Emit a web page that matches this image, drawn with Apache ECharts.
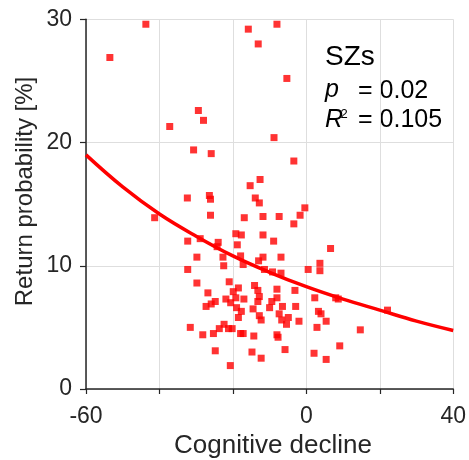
<!DOCTYPE html>
<html>
<head>
<meta charset="utf-8">
<script src="https://cdn.jsdelivr.net/npm/echarts@6/dist/echarts.min.js"></script>
<style>
html,body{margin:0;padding:0;background:#fff;}
#chart{width:469px;height:460px;}
</style>
</head>
<body>
<div id="chart"></div>
<script>
// Scatter: cognitive decline (x) vs return probability [%] (y)
const declineValues = [
  -53.5,-43.7,-37.2,-29.4,-28.0,-30.7,-25.9,-32.4,-26.4,-26.1,-26.1,-41.3,
  -15.8,-8.0,-13.1,-5.3,-8.8,-3.4,-12.6,-15.3,-13.9,-12.8,-0.4,-1.7,-16.9,-11.8,-7.4,-3.4,
  -32.3,-28.9,-24.0,-24.3,-29.8,-22.7,-32.3,-22.5,-29.8,-21.0,
  -19.2,-17.7,-11.8,-8.9,-18.8,-17.9,-17.2,-11.8,-13.0,-6.9,-11.4,-9.2,-6.9,0.5,3.7,3.7,6.6,
  -18.5,-14.1,-13.2,-12.8,-13.2,-17.0,-19.2,-20.6,-19.0,-17.7,-18.5,-14.5,-12.8,-12.3,
  -8.0,-8.0,-9.4,-10.0,-3.1,-6.5,-2.9,-7.4,-4.9,-6.7,-5.4,-2.0,2.3,4.0,3.3,5.4,2.9,
  -20.2,-17.9,-17.2,-14.3,-8.0,-7.7,-5.8,-14.8,-12.3,2.1,5.4,-20.7,
  -26.8,-27.3,-25.9,-24.8,-21.9,-19.9,-31.6,-28.2,-25.3,-23.7,-22.4,-21.2,-24.8,
  8.7,8.0,22.1,14.7,9.1
];
const returnValues = [
  26.9,29.6,21.3,22.6,21.8,19.4,19.1,15.5,15.7,15.4,14.1,13.9,
  29.2,29.6,28.0,25.2,20.4,18.5,17.0,16.5,15.5,15.1,14.7,14.1,13.9,14.0,14.0,13.4,
  12.0,12.2,11.9,11.55,10.7,10.7,9.7,10.0,8.6,8.7,
  12.6,12.5,12.5,12.0,11.7,10.8,10.1,10.7,10.4,10.7,9.7,9.5,9.4,9.7,10.2,9.6,11.4,
  8.2,8.4,8.0,7.5,7.1,7.3,7.4,7.0,6.6,6.3,5.8,6.5,5.95,5.6,
  8.1,7.4,7.1,6.6,8.0,6.7,6.7,6.1,5.8,5.6,5.25,5.5,7.4,6.1,6.3,5.5,5.0,
  4.9,4.5,4.5,4.3,4.4,4.2,3.2,3.0,2.5,2.9,2.4,1.9,
  7.8,6.7,6.9,7.1,7.3,7.9,5.0,4.4,4.5,4.9,5.25,4.9,3.1,
  7.3,7.4,6.4,4.8,3.5
];
// Fitted curve
const fitX = [-60,-50,-40,-30,-20,-10,0,10,20,30,40];
const fitY = [19.0,16.4,14.2,12.4,10.8,9.47,8.3,7.29,6.4,5.51,4.75];

const xTickLabels = ['-60','0','40'];
const yTickLabels = ['0','10','20','30'];

const scatterData = declineValues.map((x,i)=>[x, returnValues[i]]);
const fitData = fitX.map((x,i)=>[x, fitY[i]]);

const textColor = '#262626';
const FONT = 'Liberation Sans, Arial, Helvetica, sans-serif';

const chart = echarts.init(document.getElementById('chart'), null, {renderer:'canvas'});
chart.setOption({
  animation:false,
  backgroundColor:'#fff',
  grid:{left:86, right:14, top:19.3, bottom:71, containLabel:false},
  xAxis:{
    type:'value', min:-60, max:40, interval:20,
    axisLine:{show:true, onZero:false, lineStyle:{color:textColor, width:1.5}},
    axisTick:{show:true, inside:false, length:5, lineStyle:{color:textColor, width:1.2}},
    axisLabel:{
      show:true, margin:16, fontSize:23, color:textColor, fontFamily:FONT,
      showMinLabel:true, showMaxLabel:true,
      formatter:v=>{const s=String(v); return xTickLabels.indexOf(s)>=0?s:'';}
    },
    splitLine:{show:true, lineStyle:{color:'#dedede', width:1}}
  },
  yAxis:{
    type:'value', min:0, max:30, interval:10,
    axisLine:{show:true, onZero:false, lineStyle:{color:textColor, width:1.5}},
    axisTick:{show:true, inside:false, length:6, lineStyle:{color:textColor, width:1.2}},
    axisLabel:{
      show:true, margin:14, fontSize:23, color:textColor, fontFamily:FONT,
      showMinLabel:true, showMaxLabel:true,
      formatter:v=>{const s=String(v); return yTickLabels.indexOf(s)>=0?s:'';}
    },
    splitLine:{show:true, lineStyle:{color:'#dedede', width:1}}
  },
  series:[
    {
      type:'scatter', data:scatterData, symbol:'rect', symbolSize:7,
      itemStyle:{color:'#ff0000'}, z:3
    },
    {
      type:'line', data:fitData, smooth:0.4, showSymbol:false, symbol:'none',
      lineStyle:{color:'#ff0000', width:3.5}, z:4
    }
  ],
  graphic:[
    {type:'text', x:25, y:191.5, rotation:Math.PI/2,
     style:{text:'Return probability [%]', font:'24px '+FONT, fill:textColor, align:'center', verticalAlign:'middle'}},
    {type:'text', x:273, y:446,
     style:{text:'Cognitive decline', font:'26px '+FONT, fill:textColor, align:'center', verticalAlign:'middle'}},
    {type:'text', x:325, y:57,
     style:{text:'SZs', font:'28px '+FONT, fill:'#000', align:'left', verticalAlign:'middle'}},
    {type:'text', x:325, y:90.5,
     style:{text:'p', font:'italic 25px '+FONT, fill:'#000', align:'left', verticalAlign:'middle'}},
    {type:'text', x:358, y:91,
     style:{text:'= 0.02', font:'25px '+FONT, fill:'#000', align:'left', verticalAlign:'middle'}},
    {type:'text', x:325, y:120,
     style:{text:'R', font:'italic 25px '+FONT, fill:'#000', align:'left', verticalAlign:'middle'}},
    {type:'text', x:340.5, y:114,
     style:{text:'2', font:'13px '+FONT, fill:'#000', align:'left', verticalAlign:'middle'}},
    {type:'text', x:358, y:120,
     style:{text:'= 0.105', font:'25px '+FONT, fill:'#000', align:'left', verticalAlign:'middle'}}
  ]
});
</script>
</body>
</html>
